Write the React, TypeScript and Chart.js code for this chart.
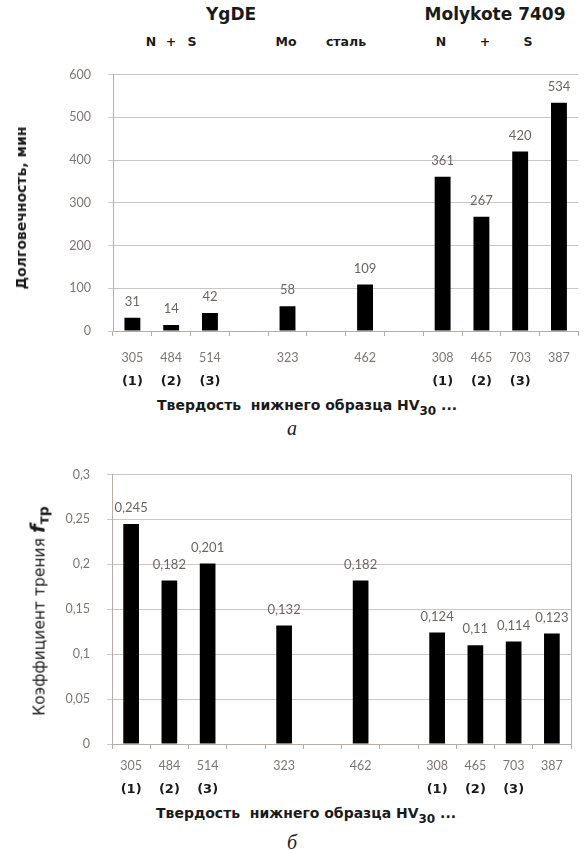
import React, { useEffect, useRef } from 'react';
import { Chart, registerables } from 'chart.js';

Chart.register(...registerables);

// ---- data ----
const categories = ['305', '484', '514', '', '323', '', '462', '', '308', '465', '703', '387'];
const groupLabels = ['(1)', '(2)', '(3)', '', '', '', '', '', '(1)', '(2)', '(3)', ''];
const durability = [31, 14, 42, null, 58, null, 109, null, 361, 267, 420, 534];
const friction = [0.245, 0.182, 0.201, null, 0.132, null, 0.182, null, 0.124, 0.11, 0.114, 0.123];
const durabilityTicks = [0, 100, 200, 300, 400, 500, 600];
const frictionTicks = [0, 0.05, 0.1, 0.15, 0.2, 0.25, 0.3];

const TICK_FONT = 'Lato';
const TITLE_FONT = '"DejaVu Sans", sans-serif';
const gridColor = '#cfc5bf';
const axisColor = '#b8aca5';
const tickColor = '#7d7571';
const labelColor = '#6b6663';

const comma = (v: number) => String(Math.round(v * 1000) / 1000).replace('.', ',');

type Cfg = {
  values: (number | null)[];
  yTicks: number[];
  fmt: (v: number) => string;
  pad: { top: number; right: number };
  yWidth: number;
  xHeight: number;
  xPad: number;
  x2Height: number;
  x2Pad: number;
  box: boolean;
};

function buildChart(canvas: HTMLCanvasElement, c: Cfg) {
  const valueLabels = {
    id: 'valueLabels',
    afterDatasetsDraw(chart: any) {
      const ctx = chart.ctx;
      const meta = chart.getDatasetMeta(0);
      ctx.save();
      ctx.font = `13px ${TICK_FONT}`;
      ctx.fillStyle = labelColor;
      ctx.textAlign = 'center';
      ctx.textBaseline = 'middle';
      meta.data.forEach((bar: any, i: number) => {
        const v = c.values[i];
        if (v == null) return;
        ctx.fillText(c.fmt(v), bar.x, bar.y - 16);
      });
      ctx.restore();
    },
  };
  const plotBox = {
    id: 'plotBox',
    afterDraw(chart: any) {
      if (!c.box) return;
      const { ctx, chartArea } = chart;
      ctx.save();
      ctx.strokeStyle = axisColor;
      ctx.lineWidth = 1;
      ctx.beginPath();
      ctx.moveTo(Math.round(chartArea.right) + 0.5, chartArea.top);
      ctx.lineTo(Math.round(chartArea.right) + 0.5, chartArea.bottom);
      ctx.stroke();
      ctx.restore();
    },
  };
  return new Chart(canvas, {
    type: 'bar',
    data: {
      labels: categories,
      datasets: [
        {
          data: c.values as any,
          backgroundColor: '#000000',
          borderWidth: 0,
          barPercentage: 0.41,
          categoryPercentage: 1,
          xAxisID: 'x',
          yAxisID: 'y',
        },
      ],
    },
    options: {
      responsive: false,
      animation: false,
      layout: { padding: { top: c.pad.top, right: c.pad.right, left: 0, bottom: 0 } },
      plugins: { legend: { display: false }, tooltip: { enabled: false }, title: { display: false } },
      scales: {
        x: {
          type: 'category',
          position: 'bottom',
          offset: true,
          grid: { display: true, offset: true, drawOnChartArea: false, drawTicks: true, tickLength: 5, color: axisColor },
          border: { display: true, color: axisColor },
          ticks: { color: tickColor, font: { family: TICK_FONT, size: 12.5 }, padding: c.xPad, autoSkip: false, maxRotation: 0 },
          afterFit: (s: any) => { s.height = c.xHeight; },
        },
        x2: {
          type: 'category',
          labels: groupLabels,
          position: 'bottom',
          offset: true,
          grid: { display: false, drawTicks: false },
          border: { display: false },
          ticks: { color: '#1a1a1a', font: { family: 'DejaVu Sans', size: 13, weight: 'bold' }, padding: c.x2Pad, autoSkip: false, maxRotation: 0 },
          afterFit: (s: any) => { s.height = c.x2Height; },
        },
        y: {
          type: 'linear',
          min: c.yTicks[0],
          max: c.yTicks[c.yTicks.length - 1],
          afterBuildTicks: (s: any) => { s.ticks = c.yTicks.map((v) => ({ value: v })); },
          grid: { color: gridColor, drawTicks: true, tickLength: 5 },
          border: { display: true, color: axisColor },
          ticks: { color: tickColor, font: { family: TICK_FONT, size: 12.5 }, padding: 17, callback: (v: any) => c.fmt(Number(v)) },
          afterFit: (s: any) => { s.width = c.yWidth; },
        },
      },
    },
    plugins: [valueLabels, plotBox],
  } as any);
}

const abs = (x: number, y: number, extra: React.CSSProperties = {}): React.CSSProperties => ({
  position: 'absolute',
  left: x,
  top: y,
  transform: 'translate(-50%, -50%)',
  whiteSpace: 'nowrap',
  lineHeight: 1,
  ...extra,
});

export default function App() {
  const topRef = useRef<HTMLCanvasElement>(null);
  const botRef = useRef<HTMLCanvasElement>(null);

  useEffect(() => {
    const a = buildChart(topRef.current!, {
      values: durability,
      yTicks: durabilityTicks,
      fmt: (v) => String(v),
      pad: { top: 22, right: 4 },
      yWidth: 113,
      xHeight: 38,
      xPad: 14,
      x2Height: 27,
      x2Pad: 5,
      box: false,
    });
    const b = buildChart(botRef.current!, {
      values: friction,
      yTicks: frictionTicks,
      fmt: comma,
      pad: { top: 23, right: 13 },
      yWidth: 112,
      xHeight: 30,
      xPad: 9,
      x2Height: 28,
      x2Pad: 8,
      box: true,
    });
    return () => {
      a.destroy();
      b.destroy();
    };
  }, []);

  const hdr: React.CSSProperties = { fontFamily: TITLE_FONT, fontWeight: 'bold', color: '#1a1a1a' };
  const small: React.CSSProperties = { ...hdr, fontSize: 12.5 };
  const xTitle: React.CSSProperties = { fontFamily: TITLE_FONT, fontWeight: 'bold', fontSize: 14, color: '#1a1a1a', position: 'absolute', whiteSpace: 'nowrap', lineHeight: 1 };
  const letter: React.CSSProperties = { fontFamily: '"Liberation Serif", serif', fontStyle: 'italic', fontSize: 20, color: '#222' };

  return (
    <div style={{ position: 'absolute', left: 0, top: 0, width: 584, height: 850, background: '#fff', overflow: 'hidden' }}>
      <div style={abs(231, 14, { ...hdr, fontSize: 17 })}>YgDE</div>
      <div style={abs(495, 14, { ...hdr, fontSize: 17 })}>Molykote 7409</div>
      <div style={abs(151, 42, small)}>N</div>
      <div style={abs(171, 42, small)}>+</div>
      <div style={abs(192, 42, small)}>S</div>
      <div style={abs(286, 42, small)}>Mo</div>
      <div style={abs(346, 42, small)}>сталь</div>
      <div style={abs(441, 42, small)}>N</div>
      <div style={abs(485, 42, small)}>+</div>
      <div style={abs(528, 42, small)}>S</div>

      <canvas ref={topRef} width={584} height={346} style={{ position: 'absolute', left: 0, top: 50, width: 584, height: 346 }} />
      <div style={abs(21, 208, { fontFamily: TITLE_FONT, fontWeight: 'bold', fontSize: 14, color: '#1a1a1a', transform: 'translate(-50%, -50%) rotate(-90deg)' })}>
        Долговечность, мин
      </div>
      <div style={{ ...xTitle, left: 157, top: 398 }}>
        Твердость&nbsp; нижнего образца HV<sub style={{ fontSize: 12, verticalAlign: -5 }}>30</sub> ...
      </div>
      <div style={abs(292, 428, letter)}>а</div>

      <canvas ref={botRef} width={584} height={352} style={{ position: 'absolute', left: 0, top: 450, width: 584, height: 352 }} />
      <div style={abs(39, 611, { fontFamily: TITLE_FONT, fontSize: 15.5, color: '#1a1a1a', transform: 'translate(-50%, -50%) rotate(-90deg)' })}>
        Коэффициент трения <span style={{ fontStyle: 'italic', fontWeight: 'bold', fontSize: 20 }}>f</span>
        <sub style={{ fontWeight: 'bold', fontSize: 14, verticalAlign: -4 }}>тр</sub>
      </div>
      <div style={{ ...xTitle, left: 156, top: 806 }}>
        Твердость&nbsp; нижнего образца HV<sub style={{ fontSize: 12, verticalAlign: -5 }}>30</sub> ...
      </div>
      <div style={abs(292, 842, letter)}>б</div>
    </div>
  );
}
